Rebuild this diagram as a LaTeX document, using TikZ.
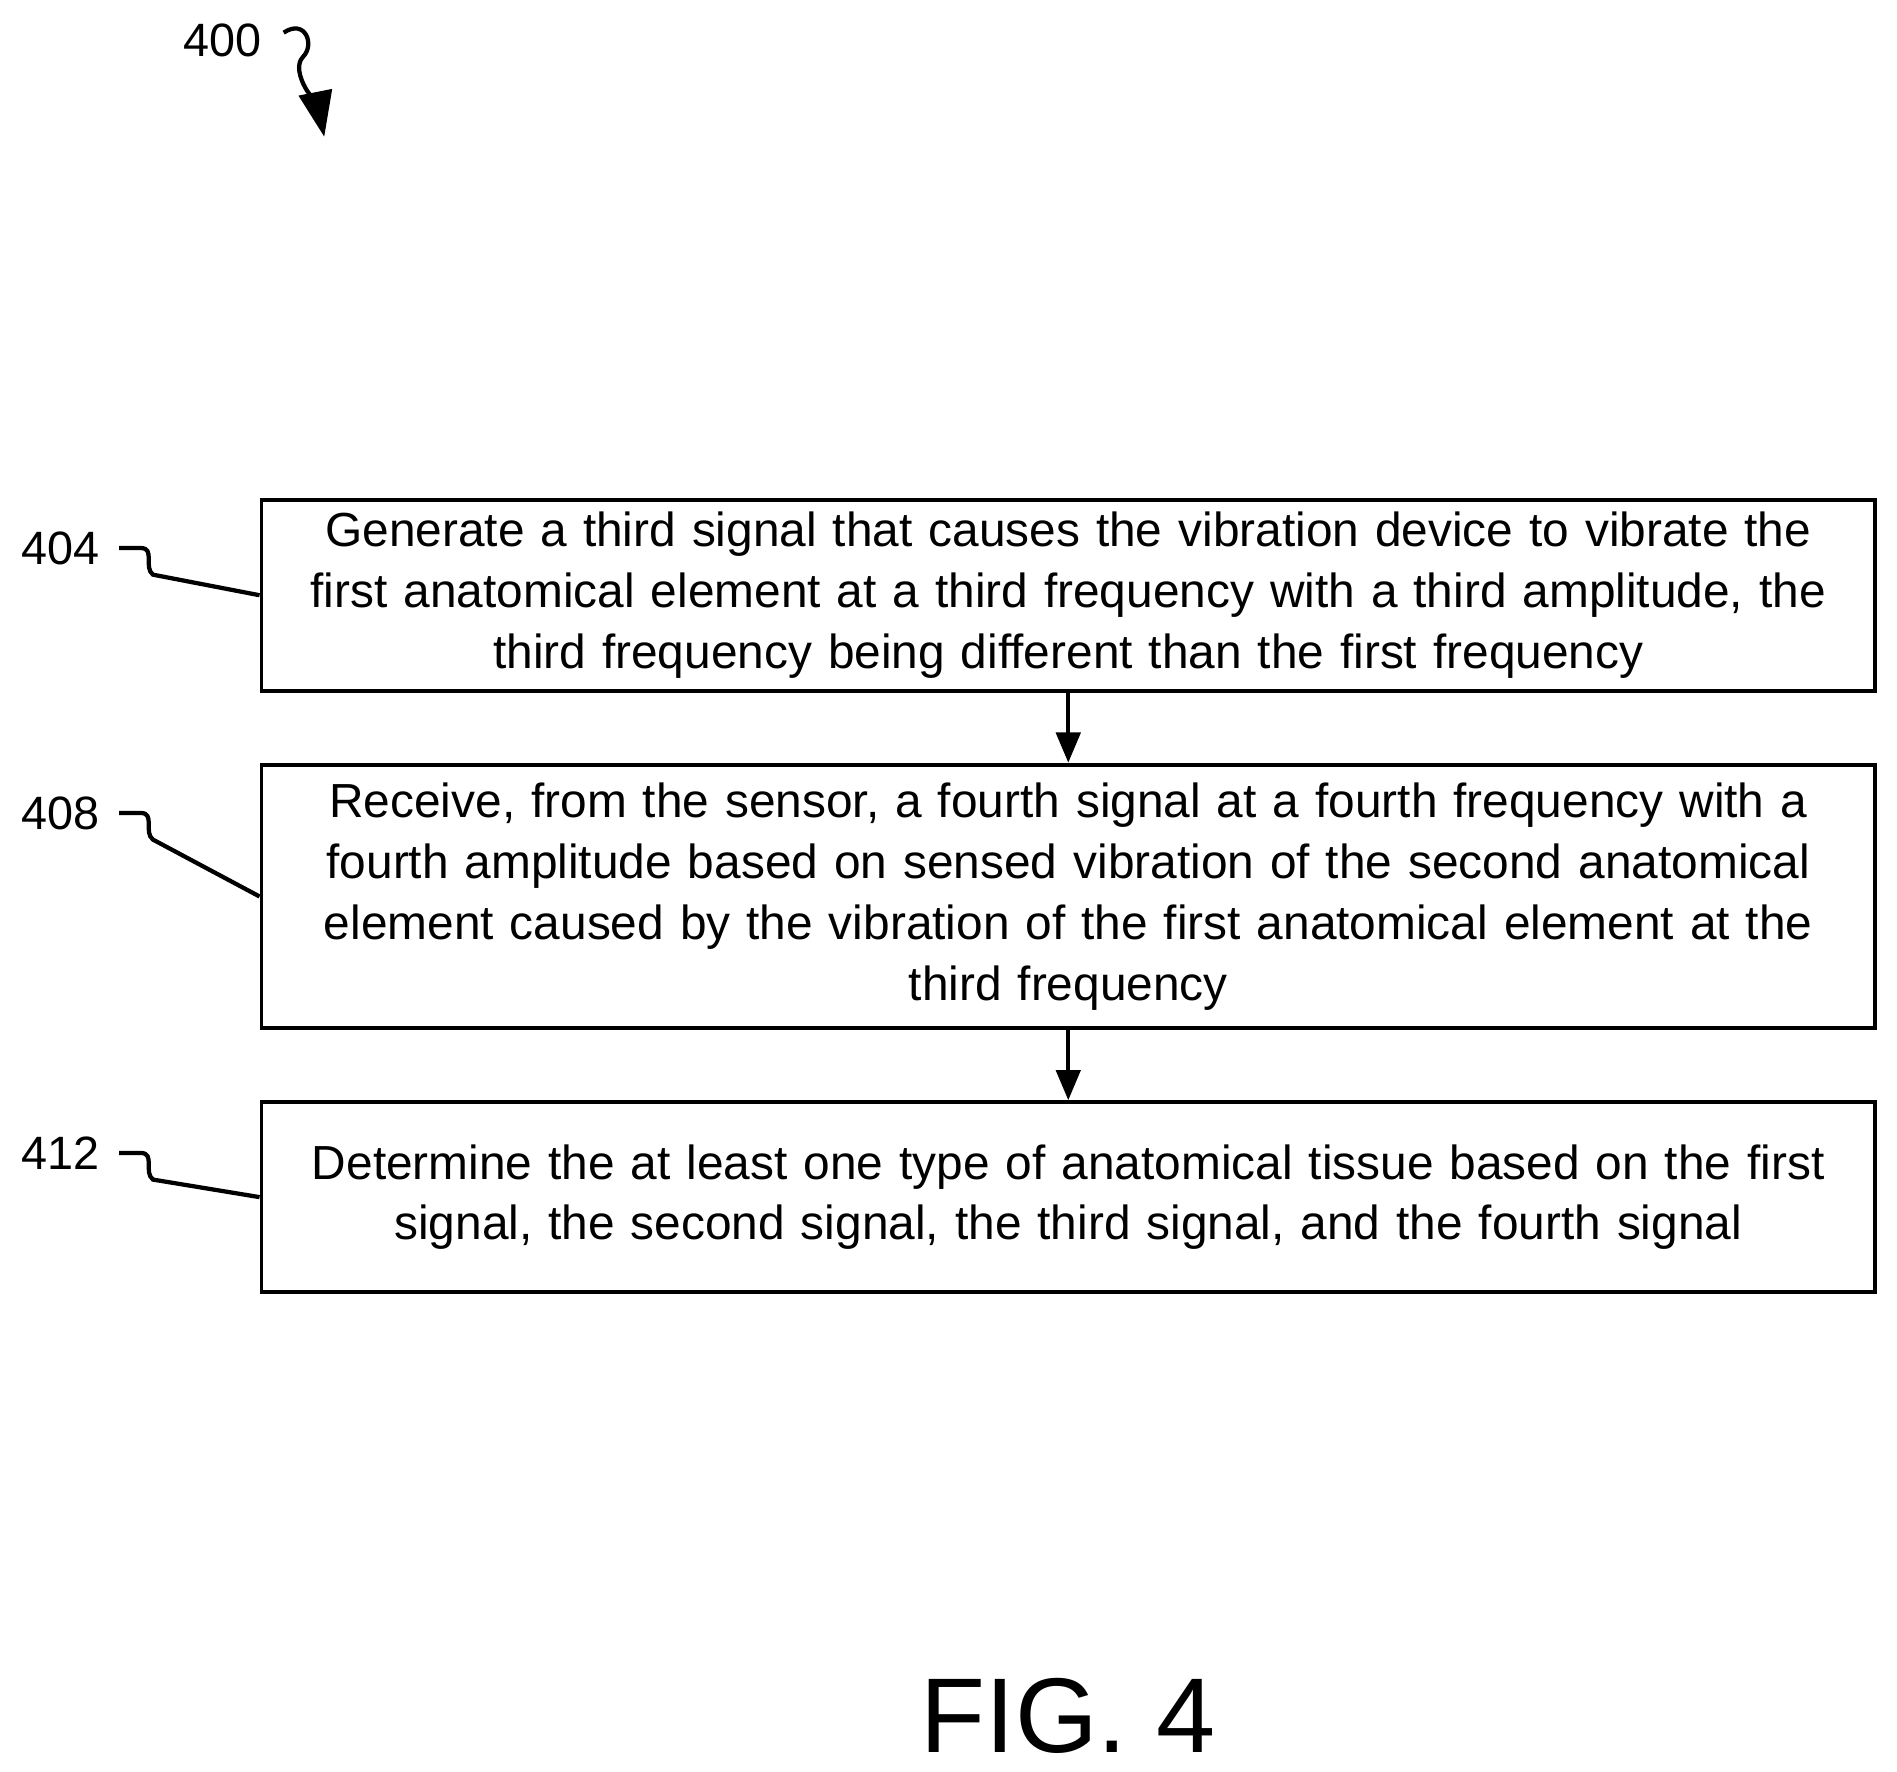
\documentclass[tikz,border=0pt]{standalone}
\usepackage{fontspec}
\setmainfont{Liberation Sans}
\usetikzlibrary{positioning,arrows.meta}
\tikzset{
  stepbox/.style={rectangle, draw=black, line width=1.8pt, minimum width=26.68cm, text width=26.4cm,
        align=center, font=\fontsize{22.5}{28.6}\selectfont},
  ref/.style={font=\fontsize{22}{26}\selectfont},
  lead/.style={line width=2pt},
  flow/.style={line width=2pt, -{Triangle[length=0.5cm,width=0.4cm]}}
}
\begin{document}
\begin{tikzpicture}[x=0.02cm,y=-0.02cm]
  \useasboundingbox (0,0) rectangle (1568,1464);
  \node (gen) [stepbox, minimum height=3.16cm] at (883,492)
  {Generate a third signal that causes the vibration device to vibrate the\\ first anatomical element at a third frequency with a third amplitude, the\\ third frequency being different than the first frequency};
  \node (recv) [stepbox, minimum height=4.36cm] at (883,741)
  {Receive, from the sensor, a fourth signal at a fourth frequency with a\\ fourth amplitude based on sensed vibration of the second anatomical\\ element caused by the vibration of the first anatomical element at the\\ third frequency};
  \node (det) [stepbox, minimum height=3.14cm] at (883,989.5)
  {Determine the at least one type of anatomical tissue based on the first\\ signal, the second signal, the third signal, and the fourth signal};
  \draw[flow] (gen.south) -- (recv.north);
  \draw[flow] (recv.south) -- (det.north);
  % reference numerals
  \node (n400) [ref] at (184,33) {400};
  \node (n404) [ref] at (50,453) {404};
  \node (n408) [ref] at (50,672) {408};
  \node (n412) [ref] at (50,953) {412};
  \foreach \n/\b in {n404/gen, n408/recv, n412/det}
    \draw[lead] (\n.east) ++(10,0) -- ++(18,0) .. controls ++(12,0) and ++(-8,-6) .. ++(10,22) -- (\b.west);
  \draw[lead, -{Triangle[length=0.75cm,width=0.55cm]}] (n400.east) ++(12,-6) .. controls ++(18,-12) and ++(10,-10) .. ++(16,20)
    .. controls ++(-12,12) and ++(-4,-20) .. (268,113);
  \node (fig) [font=\fontsize{50}{56}\selectfont] at (883,1418) {FIG. 4};
\end{tikzpicture}
\end{document}
